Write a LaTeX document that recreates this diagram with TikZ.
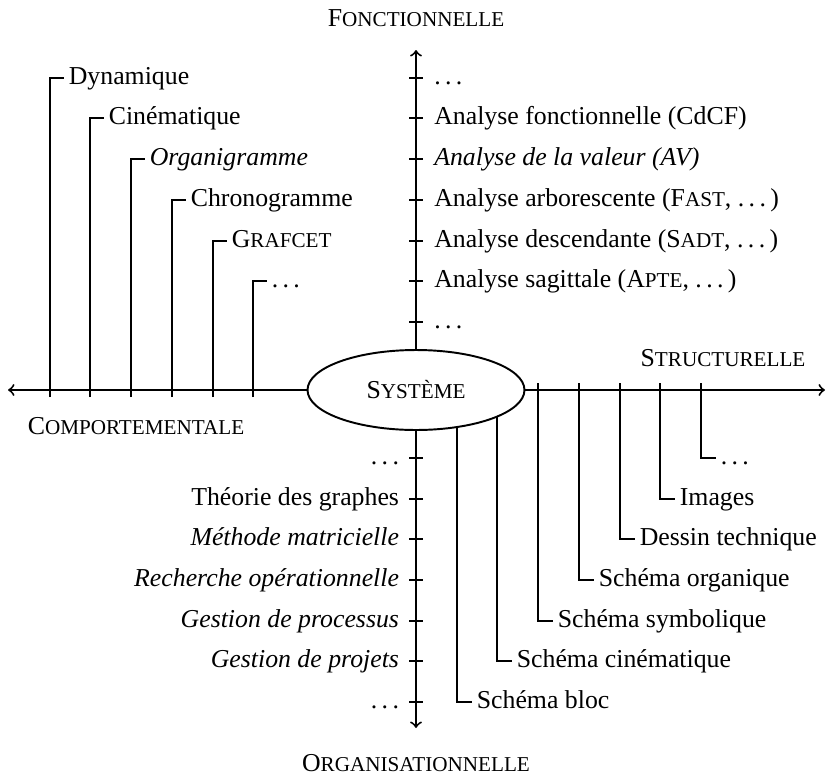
\documentclass[tikz,border=0pt]{standalone}
\usepackage{fontspec}
\setmainfont{Liberation Serif}
\usetikzlibrary{shapes.geometric,intersections}
\newcommand\capsm[1]{{\fontsize{8.2}{10}\selectfont #1}}
\newcommand\tdots{.\kern0.17em.\kern0.17em.}
\begin{document}
\begin{tikzpicture}[x=0.3876pt,y=-0.3876pt,line width=0.75pt,
  lbl/.style={inner sep=1.5pt,text height=7pt,text depth=2.2pt,font=\fontsize{10}{12}\selectfont},
  toplbl/.style={lbl,anchor=west,inner sep=4pt},
  botlbl/.style={lbl,anchor=east,inner sep=3.5pt},
  axlbl/.style={inner sep=0pt,font=\fontsize{10}{12}\selectfont},
  sysnode/.style={draw,ellipse,minimum width=84.1pt,minimum height=31pt,inner sep=0pt,font=\fontsize{10}{12}\selectfont},
  axis/.style={->},
  tick/.style={}]
\useasboundingbox (0,0) rectangle (830,778);

% central node
\node[sysnode,name path=ell] (sys) at (416,390) {S\capsm{YSTÈME}};

% axes
\coordinate (atop) at (416,50);
\coordinate (abot) at (416,728);
\coordinate (aleft) at (8,390);
\coordinate (aright) at (825,390);
\draw[axis] (sys.north) -- (atop);
\draw[axis] (sys.south) -- (abot);
\draw[axis] (sys.west) -- (aleft);
\draw[axis] (sys.east) -- (aright);

% axis titles
\node[axlbl] (tfon) at (416,18) {F\capsm{ONCTIONNELLE}};
\node[axlbl] (tstr) at (723,358) {S\capsm{TRUCTURELLE}};
\node[axlbl] (tcom) at (136,426) {C\capsm{OMPORTEMENTALE}};
\node[axlbl] (torg) at (416,763) {O\capsm{RGANISATIONNELLE}};

% ticks on vertical axis
\foreach \yy in {78,118,159,200,241,281,322,458,499,539,580,621,661,702}
  \draw[tick] (409,\yy) -- (423,\yy);

% top labels (fonctionnelle)
\node[toplbl] (f1) at (423,78) {\tdots};
\node[toplbl] (f2) at (423,118) {Analyse fonctionnelle (CdCF)};
\node[toplbl] (f3) at (423,159) {\textit{Analyse de la valeur (AV)}};
\node[toplbl] (f4) at (423,200) {Analyse arborescente (F\capsm{AST}, \tdots\kern0.17em)};
\node[toplbl] (f5) at (423,241) {Analyse descendante (S\capsm{ADT}, \tdots\kern0.17em)};
\node[toplbl] (f6) at (423,281) {Analyse sagittale (A\capsm{PTE}, \tdots\kern0.17em)};
\node[toplbl] (f7) at (423,322) {\tdots};

% bottom labels (organisationnelle)
\node[botlbl] (o1) at (409,458) {\tdots};
\node[botlbl] (o2) at (409,499) {Théorie des graphes};
\node[botlbl] (o3) at (409,539) {\textit{Méthode matricielle}};
\node[botlbl] (o4) at (409,580) {\textit{Recherche opérationnelle}};
\node[botlbl] (o5) at (409,621) {\textit{Gestion de processus}};
\node[botlbl] (o6) at (409,661) {\textit{Gestion de projets}};
\node[botlbl] (o7) at (409,702) {\tdots};

% left labels (comportementale)
\foreach \i/\xx/\yy/\txt in {1/50/78/Dynamique,
                            2/90/118/Cinématique,
                            3/131/159/\textit{Organigramme},
                            4/172/200/Chronogramme,
                            5/213/241/G\capsm{RAFCET},
                            6/253/281/\tdots}{
  \coordinate (cf\i) at (\xx,397);
  \node[lbl,anchor=west] (c\i) at (\xx+14,\yy) {\txt};
  \draw (cf\i) |- (c\i.west);
}

% right labels (structurelle) starting at the axis
\foreach \i/\xx/\yy/\txt in {3/538/621/Schéma symbolique,
                            4/579/580/Schéma organique,
                            5/620/539/Dessin technique,
                            6/660/499/Images,
                            7/701/458/\tdots}{
  \coordinate (sf\i) at (\xx,383);
  \node[lbl,anchor=west] (s\i) at (\xx+15,\yy) {\txt};
  \draw (sf\i) |- (s\i.west);
}

% right labels starting at the ellipse
\path[name path=v1] (457,380) -- (457,470);
\path[name path=v2] (497,380) -- (497,470);
\path[name intersections={of=v1 and ell,by=sf1}];
\path[name intersections={of=v2 and ell,by=sf2}];
\node[lbl,anchor=west] (s1) at (457+15,702) {Schéma bloc};
\node[lbl,anchor=west] (s2) at (497+15,661) {Schéma cinématique};
\draw (sf1) |- (s1.west);
\draw (sf2) |- (s2.west);
\end{tikzpicture}
\end{document}
